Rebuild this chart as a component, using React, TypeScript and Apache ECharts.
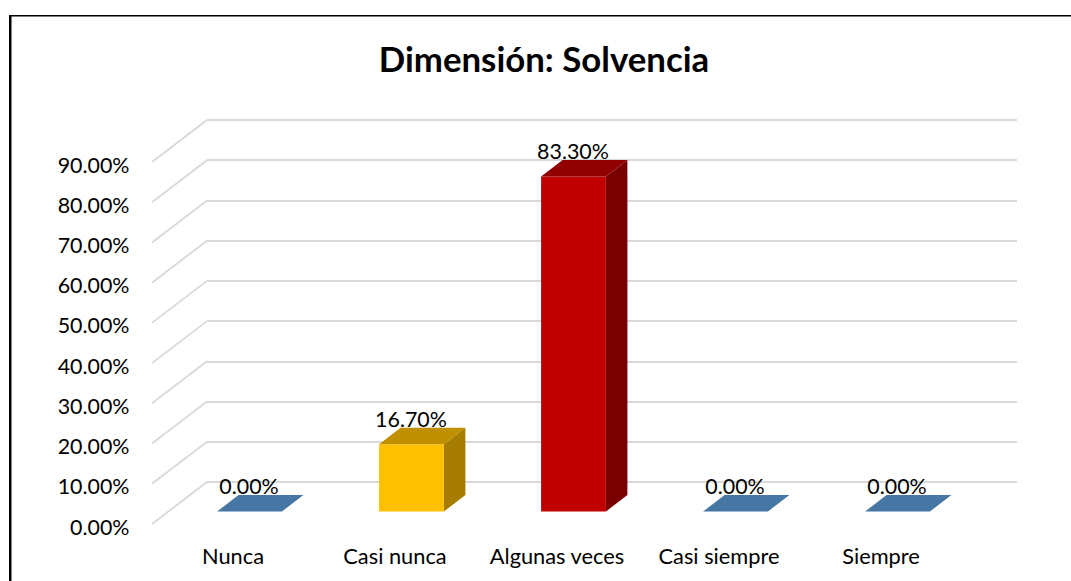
import React, { useEffect, useRef } from "react";
import * as echarts from "echarts";

const titleText = "Dimensión: Solvencia";
const categories = ["Nunca", "Casi nunca", "Algunas veces", "Casi siempre", "Siempre"];
const values = [0, 16.7, 83.3, 0, 0];
const yTicks = [0, 10, 20, 30, 40, 50, 60, 70, 80, 90];
const frontColors = ["#4676A3", "#FFC000", "#C00000", "#4676A3", "#4676A3"];
const topColors = ["#4676A3", "#BF9000", "#900000", "#4676A3", "#4676A3"];
const sideColors = ["#36597C", "#A67D00", "#7A0000", "#36597C", "#36597C"];

const FONT = "Lato, Carlito, sans-serif";
const DEPTH_X = 55;
const DEPTH_Y = 42;
const BAR_OFFSET_X = 16.5;
const BAR_OFFSET_Y = 12.5;
const BAR_DEPTH_X = 21.5;
const BAR_DEPTH_Y = 16.5;

const pct = (v: number) => v.toFixed(2) + "%";

export default function App() {
  const ref = useRef<HTMLDivElement>(null);
  useEffect(() => {
    const chart = echarts.init(ref.current!, null, { renderer: "svg" });
    chart.setOption({
      animation: false,
      backgroundColor: "#fff",
      title: {
        text: titleText,
        left: 539,
        top: 35.5,
        textAlign: "center",
        textStyle: { fontFamily: FONT, fontSize: 34.8, fontWeight: "bold", color: "#000" },
      },
      graphic: [
        { type: "rect", shape: { x: 9, y: 15, width: 2.5, height: 566 }, style: { fill: "#000" } },
        { type: "rect", shape: { x: 9, y: 15, width: 1062, height: 1.5 }, style: { fill: "#000" } },
      ],
      grid: [
        { left: 152, top: 162, width: 810, height: 362 },
        { left: 207, top: 120, width: 810, height: 362 },
      ],
      xAxis: [
        {
          type: "category",
          gridIndex: 0,
          data: categories,
          axisLine: { show: false },
          axisTick: { show: false },
          axisLabel: { margin: 20, fontFamily: FONT, fontSize: 21.8, color: "#000", interval: 0 },
        },
        { type: "category", gridIndex: 1, data: categories, show: false },
      ],
      yAxis: [
        {
          type: "value",
          gridIndex: 0,
          min: 0,
          max: 90,
          interval: 10,
          axisLine: { show: false },
          axisTick: { show: false },
          splitLine: { show: false },
          axisLabel: {
            margin: 22.5,
            fontFamily: FONT,
            fontSize: 21.4,
            color: "#000",
            verticalAlign: "top",
            padding: [-8, 0, 0, 0],
            formatter: (v: number) => pct(v),
          },
        },
        {
          type: "value",
          gridIndex: 1,
          min: 0,
          max: 90,
          interval: 10,
          axisLine: { show: false },
          axisTick: { show: false },
          axisLabel: { show: false },
          splitLine: { show: true, lineStyle: { color: "#D9D9D9", width: 2 } },
        },
      ],
      series: [
        {
          type: "custom",
          name: "walls",
          xAxisIndex: 0,
          yAxisIndex: 0,
          silent: true,
          z: 1,
          clip: false,
          data: yTicks.map((t) => [0, t]),
          renderItem: (_p: any, api: any) => {
            const c = api.coord([0, api.value(1)]);
            const x0 = 152;
            return {
              type: "line",
              shape: { x1: x0, y1: c[1], x2: x0 + DEPTH_X, y2: c[1] - DEPTH_Y },
              style: { stroke: "#D9D9D9", lineWidth: 1.8 },
            };
          },
        },
        {
          type: "custom",
          name: "Solvencia",
          xAxisIndex: 0,
          yAxisIndex: 0,
          silent: true,
          z: 3,
          clip: false,
          data: values.map((v, i) => [i, v]),
          renderItem: (p: any, api: any) => {
            const i = p.dataIndex;
            const v = api.value(1);
            const top = api.coord([api.value(0), v]);
            const base = api.coord([api.value(0), 0]);
            const w = api.size([1, 0])[0] * 0.4;
            const xl = top[0] + BAR_OFFSET_X - w / 2;
            const xr = xl + w;
            const yt = top[1] - BAR_OFFSET_Y;
            const yb = base[1] - BAR_OFFSET_Y;
            const dx = BAR_DEPTH_X;
            const dy = BAR_DEPTH_Y;
            return {
              type: "group",
              children: [
                {
                  type: "polygon",
                  shape: { points: [[xr, yt], [xr + dx, yt - dy], [xr + dx, yb - dy], [xr, yb]] },
                  style: { fill: sideColors[i] },
                },
                {
                  type: "rect",
                  shape: { x: xl, y: yt, width: w, height: yb - yt },
                  style: { fill: frontColors[i] },
                },
                {
                  type: "polygon",
                  shape: { points: [[xl, yt], [xl + dx, yt - dy], [xr + dx, yt - dy], [xr, yt]] },
                  style: { fill: topColors[i] },
                },
                {
                  type: "text",
                  style: {
                    x: (xl + xr) / 2 - 0.5,
                    y: yt - 25.5,
                    text: pct(v),
                    textAlign: "center",
                    textVerticalAlign: "middle",
                    fontFamily: FONT,
                    fontSize: 21.4,
                    fill: "#000",
                  },
                },
              ],
            };
          },
        },
      ],
    });
    return () => chart.dispose();
  }, []);
  return (
    <div
      ref={ref}
      style={{ position: "absolute", left: 0, top: 0, width: 1071, height: 581, overflow: "hidden" }}
    />
  );
}
